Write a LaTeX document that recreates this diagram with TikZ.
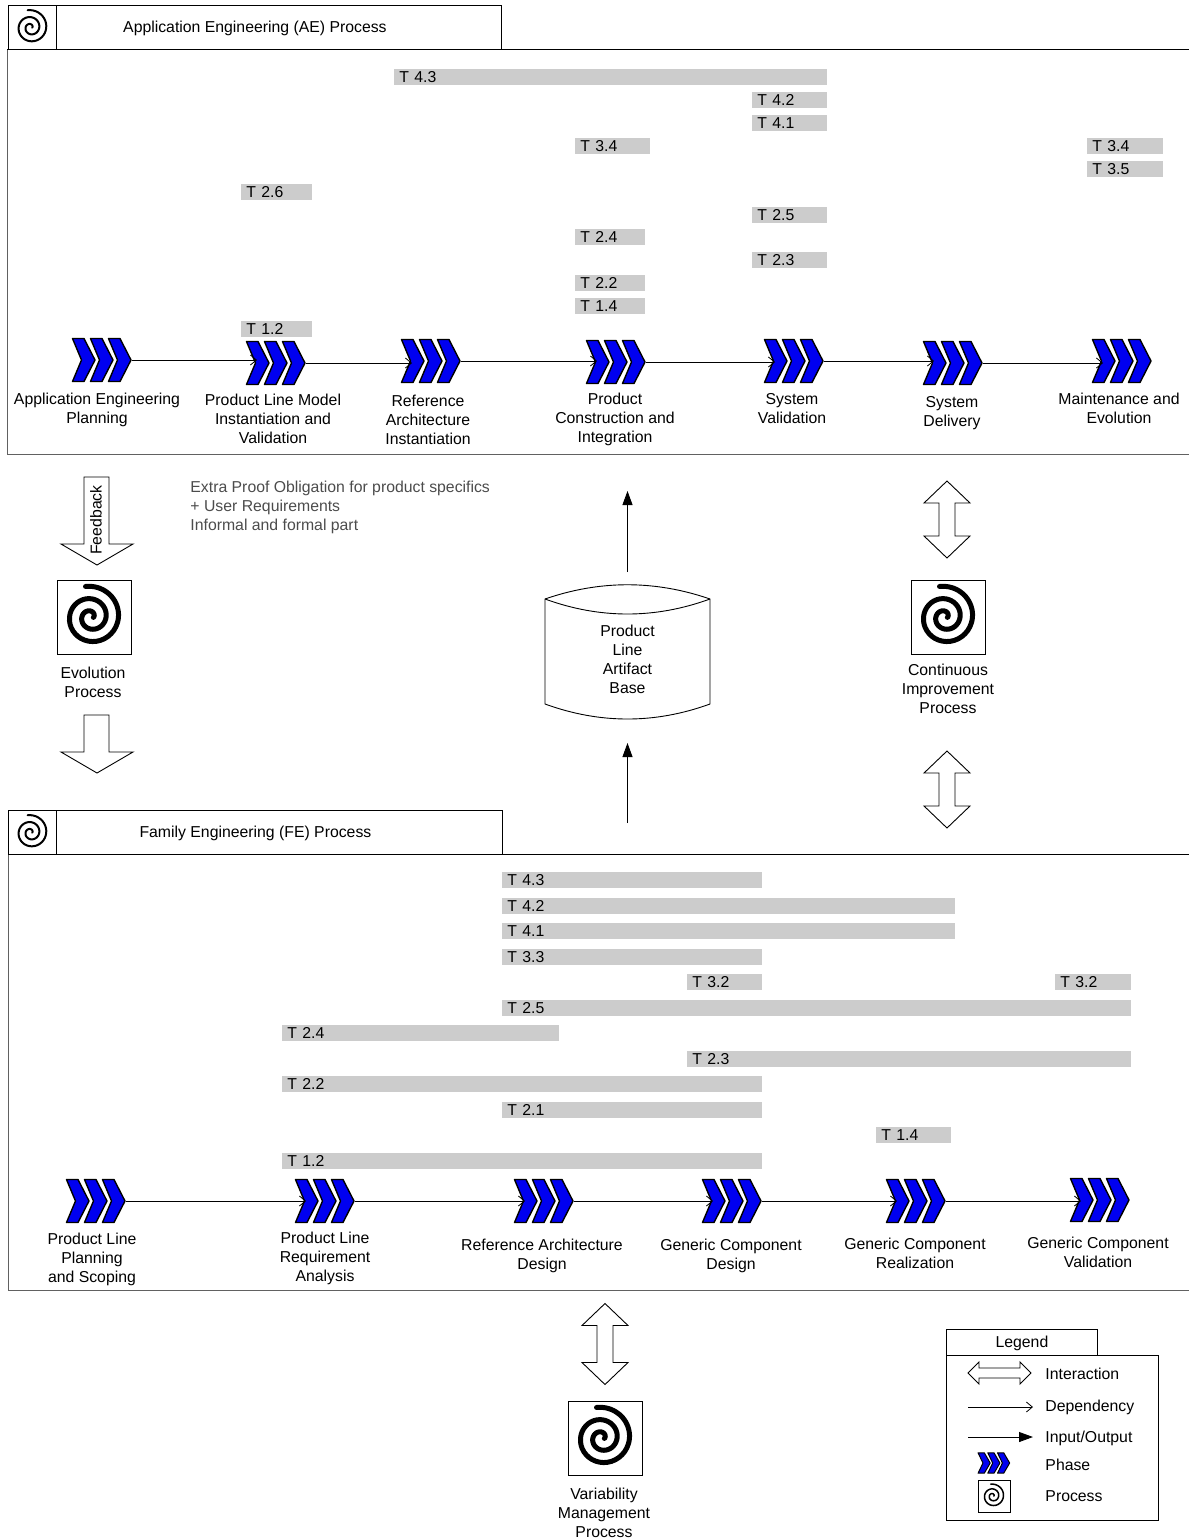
\documentclass[tikz,border=0pt]{standalone}
\usepackage{fontspec}
\setmainfont{Liberation Sans}
\usetikzlibrary{arrows.meta,positioning}
\definecolor{barfill}{RGB}{204,204,204}
\definecolor{phaseblue}{RGB}{0,0,240}

\begin{document}
\begin{tikzpicture}[x=1pt,y=-1pt,line width=0.9pt,
        every node/.style={font=\fontsize{15.8}{19}\selectfont,inner sep=0pt},
        depline/.style={-{Straight Barb[length=6pt,width=10pt]},line width=0.8pt},
        ioline/.style={-{Triangle[length=14pt,width=10pt]},line width=0.9pt},
        steplabel/.style={align=center},
        taskbar/.style={fill=barfill,anchor=west,inner xsep=5pt,minimum height=16pt,
                        text width=#1,align=left},
        framebox/.style={draw,anchor=north west},
        outerframe/.style={draw=black!62,line width=1.3pt,anchor=north west},
        headtext/.style={text height=11.4pt,text depth=1.2pt},
        procbox/.style={draw,minimum width=74pt,minimum height=74pt},
        phasebox/.style={minimum width=59pt,minimum height=44pt},
        pics/phase/.style={code={
            \foreach \i in {0,18,36}
                \draw[fill=phaseblue,line width=0.5pt+0.9pt*#1,line join=round,shift={(\i*#1,0)}]
                    (-29.5*#1,-21.5*#1) -- ++(11.5*#1,0) -- ++(11*#1,21.5*#1) -- ++(-11*#1,21.5*#1)
                    -- ++(-11.5*#1,0) -- ++(9*#1,-21.5*#1) -- cycle;
        }},
        pics/curl/.style 2 args={code={
            \draw[line width=#2,line cap=round,shift={(-.1*#1,0)}] plot[smooth,samples=90,domain=0:1,variable=\t]
                ({#1*(1-.92*\t)*cos(-100+830*\t)},{#1*(1-.92*\t)*sin(-100+830*\t)});
        }},
        pics/downblock/.style={code={
            \draw (-13,-#1) -- (12,-#1) -- (12,{#1-21}) -- (36,{#1-21}) -- (0,#1)
                -- (-36,{#1-21}) -- (-13,{#1-21}) -- cycle;
        }},
        pics/bothblock/.style={code={
            \draw (0,-#1) -- (23,{22-#1}) -- (8,{22-#1}) -- (8,{#1-22}) -- (23,{#1-22}) -- (0,#1)
                -- (-23,{#1-22}) -- (-8,{#1-22}) -- (-8,{22-#1}) -- (-23,{22-#1}) -- cycle;
        }}]
    \useasboundingbox (0,0) rectangle (1189,1540);

    \node[outerframe,minimum width=1190pt,minimum height=405pt] (aeframe) at (7,49) {};
    \draw (aeframe.north west) -- (aeframe.north east);
    \node[framebox,headtext,minimum width=493pt,minimum height=44pt] (aehead) at (8,5)
          {Application Engineering (AE) Process};
    \node[framebox,minimum width=48pt,minimum height=44pt] (aeicon) at (8,5) {};
    \pic at (aeicon) {curl={17.5}{2pt}};

    \node[taskbar=423pt] (ae43) at (394,77) {T 4.3};
    \node[taskbar=65pt] (ae42) at (752,100) {T 4.2};
    \node[taskbar=65pt] (ae41) at (752,123) {T 4.1};
    \node[taskbar=65pt] (ae34) at (575,146) {T 3.4};
    \node[taskbar=66pt] (ae34b) at (1087,146) {T 3.4};
    \node[taskbar=66pt] (ae35) at (1087,169) {T 3.5};
    \node[taskbar=61pt] (ae26) at (241,192) {T 2.6};
    \node[taskbar=65pt] (ae25) at (752,215) {T 2.5};
    \node[taskbar=60pt] (ae24) at (575,237) {T 2.4};
    \node[taskbar=65pt] (ae23) at (752,260) {T 2.3};
    \node[taskbar=60pt] (ae22) at (575,283) {T 2.2};
    \node[taskbar=60pt] (ae14) at (575,306) {T 1.4};
    \node[taskbar=61pt] (ae12) at (241,329) {T 1.2};

    \node[phasebox] (aeplan) at (102,360) {};
    \node[phasebox] (aemodel) at (276,363) {};
    \node[phasebox] (aearch) at (431,361) {};
    \node[phasebox] (aebuild) at (616,362) {};
    \node[phasebox] (aevalid) at (794,361) {};
    \node[phasebox] (aedeliv) at (953,363) {};
    \node[phasebox] (aemaint) at (1122,361) {};
    \pic at (aeplan) {phase=1};
    \pic at (aemodel) {phase=1};
    \pic at (aearch) {phase=1};
    \pic at (aebuild) {phase=1};
    \pic at (aevalid) {phase=1};
    \pic at (aedeliv) {phase=1};
    \pic at (aemaint) {phase=1};

    \draw[depline] (aeplan.east) -- ([xshift=11pt]aemodel.west |- aeplan.east);
    \draw[depline] (aemodel.east) -- ([xshift=11pt]aearch.west |- aemodel.east);
    \draw[depline] (aearch.east) -- ([xshift=11pt]aebuild.west |- aearch.east);
    \draw[depline] (aebuild.east) -- ([xshift=11pt]aevalid.west |- aebuild.east);
    \draw[depline] (aevalid.east) -- ([xshift=11pt]aedeliv.west |- aevalid.east);
    \draw[depline] (aedeliv.east) -- ([xshift=11pt]aemaint.west |- aedeliv.east);

    \node[steplabel] (aeplanl) at (97,409.5) {Application Engineering\\Planning};
    \node[steplabel] (aemodell) at (273,419) {Product Line Model\\Instantiation and\\Validation};
    \node[steplabel] (aearchl) at (428,420) {Reference\\Architecture\\Instantiation};
    \node[steplabel] (aebuildl) at (615,419) {Product\\Construction and\\Integration};
    \node[steplabel] (aevalidl) at (792,408.5) {System\\Validation};
    \node[steplabel] (aedelivl) at (952,413.5) {System\\Delivery};
    \node[steplabel] (aemaintl) at (1119,408.5) {Maintenance and\\Evolution};

    \pic at (97,521) {downblock=44};
    \node[rotate=90] (feedback) at (96,520) {Feedback};
    \node[procbox] (evolution) at (94,617) {};
    \pic at (evolution) {curl={31}{5pt}};
    \node[steplabel] (evolutionl) at (93,682.5) {Evolution\\Process};
    \pic at (97,744) {downblock=29};

    \node[align=left,anchor=north west,text=black!70] (obligation) at (190,481)
          {Extra Proof Obligation for product specifics\\+ User Requirements\\Informal and formal part};

    \coordinate (artifactouta) at (627.5,572);
    \coordinate (artifactoutb) at (627.5,491);
    \coordinate (artifactina) at (627.5,823);
    \coordinate (artifactinb) at (627.5,743);
    \draw[ioline] (artifactouta) -- (artifactoutb);
    \draw[ioline] (artifactina) -- (artifactinb);

    \draw (545,599) .. controls (600,580) and (655,580) .. (710,599) -- (710,704)
          .. controls (655,724) and (600,724) .. (545,704) -- cycle;
    \draw (545,599) .. controls (600,619) and (655,619) .. (710,599);
    \node[steplabel] (artifact) at (627.5,659.5) {Product\\Line\\Artifact\\Base};

    \pic at (947,519.5) {bothblock=38.5};
    \node[procbox] (improve) at (948,617) {};
    \pic at (improve) {curl={31}{5pt}};
    \node[steplabel] (improvel) at (948,689) {Continuous\\Improvement\\Process};
    \pic at (947,789.5) {bothblock=38.5};

    \node[outerframe,minimum width=1190pt,minimum height=436pt] (feframe) at (8,854) {};
    \draw (feframe.north west) -- (feframe.north east);
    \node[framebox,headtext,minimum width=494pt,minimum height=44pt] (fehead) at (8,810)
          {Family Engineering (FE) Process};
    \node[framebox,minimum width=48pt,minimum height=44pt] (feicon) at (8,810) {};
    \pic at (feicon) {curl={17.5}{2pt}};

    \node[taskbar=250pt] (fe43) at (502,880) {T 4.3};
    \node[taskbar=443pt] (fe42) at (502,906) {T 4.2};
    \node[taskbar=443pt] (fe41) at (502,931) {T 4.1};
    \node[taskbar=250pt] (fe33) at (502,957) {T 3.3};
    \node[taskbar=65pt] (fe32) at (687,982) {T 3.2};
    \node[taskbar=66pt] (fe32b) at (1055,982) {T 3.2};
    \node[taskbar=619pt] (fe25) at (502,1008) {T 2.5};
    \node[taskbar=267pt] (fe24) at (282,1033) {T 2.4};
    \node[taskbar=434pt] (fe23) at (687,1059) {T 2.3};
    \node[taskbar=470pt] (fe22) at (282,1084) {T 2.2};
    \node[taskbar=250pt] (fe21) at (502,1110) {T 2.1};
    \node[taskbar=65pt] (fe14) at (876,1135) {T 1.4};
    \node[taskbar=470pt] (fe12) at (282,1161) {T 1.2};

    \node[phasebox] (feplan) at (96,1201) {};
    \node[phasebox] (fereq) at (325,1201) {};
    \node[phasebox] (fearch) at (544,1201) {};
    \node[phasebox] (fedes) at (732,1201) {};
    \node[phasebox] (fereal) at (916,1201) {};
    \node[phasebox] (fevalid) at (1100,1200) {};
    \pic at (feplan) {phase=1};
    \pic at (fereq) {phase=1};
    \pic at (fearch) {phase=1};
    \pic at (fedes) {phase=1};
    \pic at (fereal) {phase=1};
    \pic at (fevalid) {phase=1};

    \draw[depline] (feplan.east) -- ([xshift=11pt]fereq.west |- feplan.east);
    \draw[depline] (fereq.east) -- ([xshift=11pt]fearch.west |- fereq.east);
    \draw[depline] (fearch.east) -- ([xshift=11pt]fedes.west |- fearch.east);
    \draw[depline] (fedes.east) -- ([xshift=11pt]fereal.west |- fedes.east);
    \draw[depline] (fereal.east) -- ([xshift=11pt]fevalid.west |- fereal.east);

    \node[steplabel] (feplanl) at (92,1259) {Product Line\\Planning\\and Scoping};
    \node[steplabel] (fereql) at (325,1258) {Product Line\\Requirement\\Analysis};
    \node[steplabel] (fearchl) at (542,1255.5) {Reference Architecture\\Design};
    \node[steplabel] (fedesl) at (731,1255.5) {Generic Component\\Design};
    \node[steplabel] (fereall) at (915,1253.5) {Generic Component\\Realization};
    \node[steplabel] (fevalidl) at (1098,1252.5) {Generic Component\\Validation};

    \pic at (605,1344) {bothblock=40.5};
    \node[procbox] (variability) at (605,1438) {};
    \pic at (variability) {curl={31}{5pt}};
    \node[steplabel] (variabilityl) at (604,1513) {Variability\\Management\\Process};

    \node[framebox,minimum width=212pt,minimum height=165pt] (legendbox) at (946,1355) {};
    \node[framebox,text height=11.4pt,text depth=1.3pt,minimum width=151pt,minimum height=26pt] (legendtab) at (946,1329) {Legend};

    \draw (968,1373) -- (979,1362) -- (979,1368) -- (1020,1368) -- (1020,1362) -- (1031,1373)
          -- (1020,1384) -- (1020,1378) -- (979,1378) -- (979,1384) -- cycle;
    \node[anchor=west] (leginter) at (1045,1374) {Interaction};
    \coordinate (legdepa) at (968,1407);
    \coordinate (legdepb) at (1033,1407);
    \draw[depline] (legdepa) -- (legdepb);
    \node[anchor=west] (legdep) at (1045,1407) {Dependency};
    \coordinate (legioa) at (968,1437);
    \coordinate (legiob) at (1033,1437);
    \draw[ioline] (legioa) -- (legiob);
    \node[anchor=west] (legio) at (1045,1438) {Input/Output};
    \node[minimum width=32pt,minimum height=21pt] (legphasemark) at (994,1463) {};
    \pic[yscale=0.88] at (legphasemark) {phase=0.54};
    \node[anchor=west] (legphase) at (1045,1465) {Phase};
    \node[draw,minimum width=32pt,minimum height=32pt] (legprocmark) at (994,1496) {};
    \pic at (legprocmark) {curl={12}{1.5pt}};
    \node[anchor=west] (legproc) at (1045,1496) {Process};
\end{tikzpicture}
\end{document}
